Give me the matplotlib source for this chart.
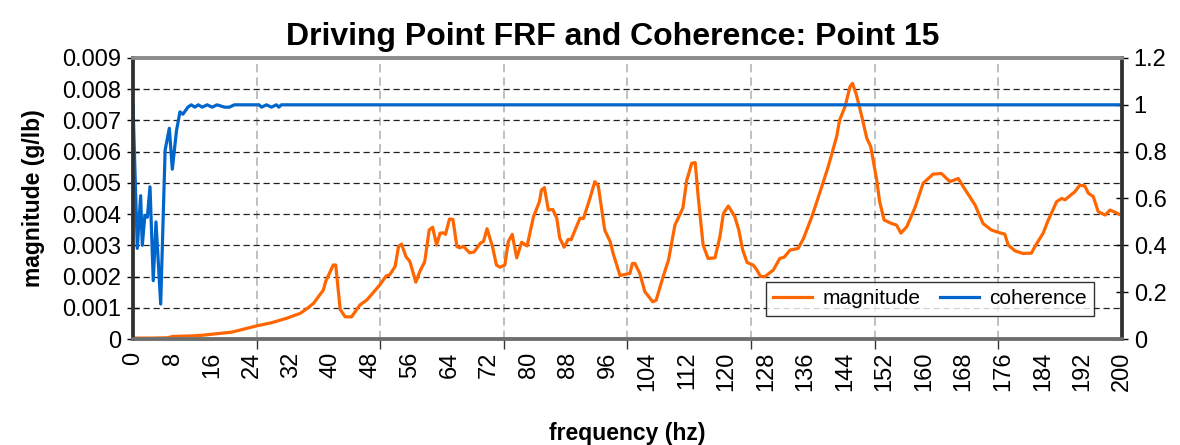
import numpy as np
import matplotlib.pyplot as plt
from matplotlib.ticker import FixedLocator

plt.rcParams['font.family'] = ['Liberation Sans', 'DejaVu Sans']

# magnitude of the driving point FRF (g/lb)
mag_freq = [0, 4, 7, 8, 12, 14, 17.6, 20, 22, 25, 28, 31, 33.8, 35, 36.5, 38.5, 39, 40.5, 41,
            41.9, 42.9, 44.2, 45.9, 47.3, 49.9, 51.2, 51.9, 53, 53.7, 54.3, 55.2, 56, 57.2, 58,
            59, 59.9, 60.6, 61.4, 62.1, 62.8, 63.2, 64, 64.7, 65.5, 66.1, 66.8, 68.1, 69, 70.2,
            70.9, 71.6, 72.7, 73.5, 74.2, 75.2, 75.9, 76.7, 77.6, 78.6, 79.7, 81, 82.2, 82.6,
            83.2, 84, 84.9, 85.7, 86.3, 87.2, 88, 88.6, 90.4, 91.1, 92.4, 93.4, 94.1, 95.4, 96.5,
            97.1, 98.5, 99.8, 100.5, 101, 101.5, 102.5, 103.5, 105.1, 105.8, 107.1, 108.3, 109.6,
            111.2, 112, 113, 113.7, 114.3, 115.3, 116.3, 117.7, 118.7, 119.4, 120.4, 121.7, 122.5,
            123.3, 124.2, 125.4, 126.1, 126.9, 127.8, 129.5, 130.8, 131.7, 132.9, 134.5, 135.6,
            137.3, 139.3, 140.6, 142.3, 142.9, 144, 145, 145.5, 146.3, 147.4, 148.4, 149.2, 150.4,
            151, 151.9, 153.4, 154.4, 155.3, 156.5, 158.1, 159.8, 161.8, 163.5, 165.2, 166.9,
            167.9, 170.3, 171.9, 173.6, 175.3, 176.3, 177, 178.4, 180, 181.7, 182.4, 184.1, 185.1,
            186.8, 187.8, 188.5, 190.5, 191.5, 192.5, 193.2, 194.2, 195.2, 196.6, 197.6, 198.6, 200]
magnitude = [0.00003, 0.00003, 0.00004, 0.00008, 0.0001, 0.00012, 0.00018, 0.00022, 0.0003,
             0.00042, 0.00052, 0.00066, 0.00082, 0.00095, 0.00114, 0.00157, 0.00186, 0.00237,
             0.00237, 0.00095, 0.00071, 0.00071, 0.00109, 0.00125, 0.00173, 0.00202, 0.00205,
             0.00232, 0.00296, 0.00304, 0.00264, 0.00248, 0.00182, 0.00216, 0.00248, 0.00349,
             0.00358, 0.00301, 0.00339, 0.0034, 0.00335, 0.00384, 0.00383, 0.00296, 0.00292,
             0.00297, 0.00276, 0.00279, 0.00306, 0.00313, 0.00353, 0.00296, 0.00237, 0.0023,
             0.00237, 0.00312, 0.00335, 0.0026, 0.0031, 0.00298, 0.00392, 0.0044, 0.00477,
             0.00485, 0.00413, 0.00415, 0.00387, 0.00323, 0.00294, 0.00319, 0.00318, 0.00387,
             0.00386, 0.0045, 0.00504, 0.0049, 0.00349, 0.00312, 0.00274, 0.00203, 0.00208,
             0.0021, 0.00242, 0.00242, 0.0021, 0.00152, 0.00119, 0.00124, 0.00194, 0.00253,
             0.00365, 0.00419, 0.00509, 0.00563, 0.00565, 0.00456, 0.00301, 0.00258, 0.0026,
             0.00328, 0.00402, 0.00426, 0.00392, 0.0035, 0.00285, 0.00245, 0.00237, 0.00223,
             0.002, 0.002, 0.00221, 0.00258, 0.00262, 0.00285, 0.0029, 0.00322, 0.00392, 0.00488,
             0.00552, 0.00648, 0.00701, 0.00744, 0.00808, 0.00819, 0.00782, 0.00712, 0.00643,
             0.00616, 0.00509, 0.0044, 0.00381, 0.0037, 0.00365, 0.00339, 0.0036, 0.00419,
             0.00499, 0.00528, 0.0053, 0.00504, 0.00514, 0.00488, 0.00429, 0.0037, 0.00349,
             0.0034, 0.00336, 0.00301, 0.00282, 0.00274, 0.00275, 0.00296, 0.0034, 0.00381,
             0.0044, 0.0045, 0.00446, 0.00472, 0.00493, 0.0049, 0.00467, 0.00456, 0.00408,
             0.00397, 0.00413, 0.00406, 0.00395]

# coherence (right axis)
coh_freq = [0, 0.87, 1.55, 1.88, 2.4, 2.9, 3.44, 4.1, 4.65, 5.6, 6.5, 7.35, 7.95, 8.8, 9.5, 10.1,
            11.1, 11.8, 12.5, 13.2, 14, 15, 16, 17, 18.5, 19.5, 20.5, 25.5, 26, 27, 28, 29, 29.5,
            30, 200]
coherence = [1.0, 0.387, 0.612, 0.40, 0.527, 0.52, 0.65, 0.249, 0.50, 0.149, 0.807, 0.90, 0.725,
             0.89, 0.97, 0.96, 0.99, 1.0, 0.99, 1.0, 0.99, 1.0, 0.99, 1.0, 0.99, 0.99, 1.0, 1.0,
             0.99, 1.0, 0.99, 1.0, 0.99, 1.0, 1.0]

x_labels = np.arange(0, 201, 8)

fig = plt.figure(figsize=(11.8, 4.45), dpi=100)
ax = fig.add_axes([0.1127, 0.2382, 0.8381, 0.6315])
ax2 = ax.twinx()

l1, = ax.plot(mag_freq, magnitude, color='#FF6600', lw=2.3, label='magnitude')
l2, = ax2.plot(coh_freq, coherence, color='#0066CC', lw=2.3, label='coherence')

ax.set_xlim(0, 200)
ax.set_ylim(0, 0.009)
ax2.set_ylim(0, 1.2)

ax.set_yticks(np.arange(0, 0.0091, 0.001))
ax.set_yticklabels(['0'] + ['%.3f' % v for v in np.arange(0.001, 0.0091, 0.001)])
ax2.set_yticks(np.arange(0, 1.21, 0.2))
ax2.set_yticklabels(['0', '0.2', '0.4', '0.6', '0.8', '1', '1.2'])

ax.set_xticks(x_labels)
ax.set_xticklabels([str(v) for v in x_labels], rotation=90)
ax.xaxis.set_minor_locator(FixedLocator(np.arange(25, 200, 25)))
ax.tick_params(axis='x', which='major', length=0, labelsize=17, pad=9)
ax.tick_params(axis='x', which='minor', length=7, width=1, color='#333333', direction='out')
ax.tick_params(axis='y', direction='inout', length=9, width=1, labelsize=17, pad=4)
ax2.tick_params(axis='y', direction='inout', length=9, width=1, labelsize=17, pad=4)

ax.grid(axis='y', which='major', color='#222222', ls=(0, (5, 3)), lw=0.9)
ax.grid(axis='x', which='minor', color='#b5b5b5', ls=(0, (5, 3)), lw=1.2)
ax.set_axisbelow(True)

for a in (ax, ax2):
    for s in a.spines.values():
        s.set_color('#8c8c8c')
        s.set_linewidth(2.6)
ax2.spines['left'].set_color('#303030')
ax2.spines['bottom'].set_color('#6e6e6e')
ax2.spines['right'].set_color('#303030')

ax.set_title('Driving Point FRF and Coherence: Point 15', fontsize=23, fontweight='bold',
             pad=9, x=0.485)
ax.set_ylabel('magnitude (g/lb)', fontsize=16.5, fontweight='bold', labelpad=12)
ax.set_xlabel('frequency (hz)', fontsize=16.5, fontweight='bold', labelpad=22)

leg = ax2.legend(handles=[l1, l2], loc='center', ncol=2, fontsize=15, frameon=True,
                 fancybox=False, bbox_to_anchor=(773 / 1180, 1 - 316 / 445, 314 / 1180, 34 / 445),
                 bbox_transform=fig.transFigure, handlelength=1.9, handletextpad=0.5,
                 columnspacing=0.9, borderpad=0.35, borderaxespad=0)
leg.get_frame().set_edgecolor('black')
leg.get_frame().set_linewidth(1.0)

fig.savefig('out.png', dpi=100)
